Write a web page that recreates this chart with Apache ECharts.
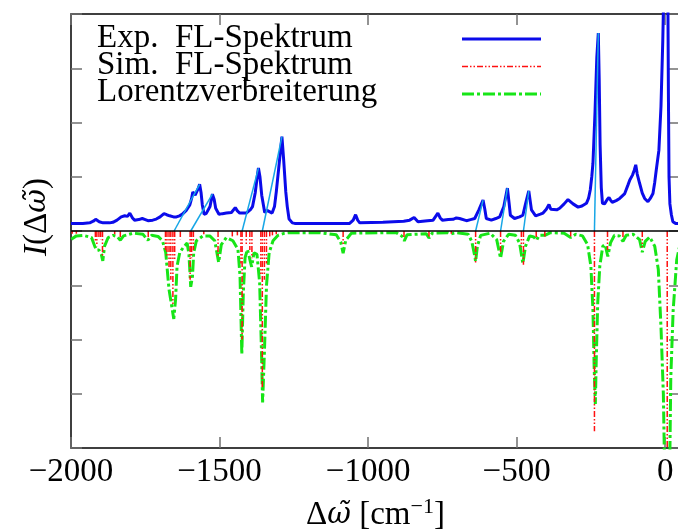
<!DOCTYPE html>
<html>
<head>
<meta charset="utf-8">
<script src="https://cdn.jsdelivr.net/npm/echarts@6/dist/echarts.min.js"></script>
<style>
html,body{margin:0;padding:0;background:#fff;}
#chart{width:678px;height:530px;}
</style>
</head>
<body>
<div id="chart"></div>
<script>
// Experimental fluorescence spectrum (blue)
const expX = [-2000,-1960,-1937,-1925,-1917,-1905,-1892,-1870,-1859,-1845,-1831,-1819,-1810,-1802,-1793,-1786,-1772,-1760,-1750,-1741,-1725,-1713,-1700,-1687,-1678,-1668,-1655,-1645,-1635,-1625,-1612,-1600,-1594,-1590,-1587,-1582,-1578,-1572,-1567,-1562,-1558,-1552,-1545,-1539,-1532,-1524,-1518,-1513,-1502,-1490,-1477,-1460,-1447,-1440,-1432,-1410,-1395,-1389,-1380,-1372,-1369,-1364,-1358,-1348,-1340,-1334,-1323,-1315,-1309,-1300,-1290,-1284,-1277,-1272,-1266,-1255,-1247,-1150,-1062,-1050,-1042,-1035,-1028,-950,-880,-860,-845,-832,-800,-781,-765,-757,-750,-730,-714,-703,-692,-669,-655,-641,-627,-613,-607,-602,-585,-570,-557,-543,-531,-525,-521,-507,-490,-479,-470,-459,-450,-436,-420,-411,-400,-391,-385,-380,-365,-355,-340,-327,-310,-293,-280,-265,-258,-252,-247,-243,-236,-230,-225,-222,-219,-215,-211,-204,-195,-189,-184,-178,-165,-153,-136,-125,-119,-110,-104,-99,-94,-86,-77,-69,-58,-50,-41,-35,-30,-21,-14,-8,-4,2,6,9,11,13,16,21,26,35,50];
const expY = [0.14,0.14,0.15,0.18,0.215,0.17,0.15,0.15,0.16,0.2,0.26,0.28,0.27,0.33,0.24,0.2,0.21,0.23,0.21,0.19,0.2,0.22,0.26,0.32,0.3,0.28,0.26,0.26,0.28,0.31,0.38,0.48,0.6,0.72,0.74,0.66,0.63,0.78,0.86,0.7,0.48,0.31,0.32,0.34,0.45,0.68,0.58,0.42,0.31,0.32,0.33,0.34,0.43,0.37,0.33,0.33,0.4,0.45,0.7,1.05,1.16,1.0,0.66,0.34,0.38,0.41,0.33,0.45,0.72,1.2,1.74,1.3,0.72,0.45,0.22,0.15,0.14,0.14,0.14,0.2,0.3,0.2,0.15,0.16,0.18,0.2,0.25,0.17,0.19,0.2,0.33,0.24,0.2,0.21,0.215,0.24,0.23,0.19,0.21,0.23,0.39,0.57,0.4,0.23,0.2,0.23,0.26,0.45,0.79,0.5,0.29,0.23,0.26,0.29,0.5,0.74,0.39,0.28,0.31,0.33,0.4,0.49,0.4,0.37,0.39,0.42,0.5,0.58,0.5,0.44,0.46,0.51,0.6,0.76,1.0,1.25,2.2,3.2,3.65,2.8,1.6,0.8,0.51,0.5,0.58,0.62,0.57,0.53,0.56,0.6,0.69,0.85,0.94,1.03,1.12,1.22,1.05,0.88,0.7,0.6,0.54,0.6,0.69,0.9,1.12,1.49,2.3,3.5,4.6,5.6,5.6,4.5,2.5,1.0,0.5,0.3,0.17,0.14,0.14];

// Simulated stick spectrum (red)
const simX = [-1996,-1982,-1918,-1913,-1906,-1900,-1894,-1853,-1834,-1740,-1682,-1677,-1670,-1664,-1657,-1651,-1632,-1599,-1594,-1588,-1553,-1505,-1457,-1440,-1428,-1424,-1410,-1398,-1391,-1361,-1356,-1349,-1342,-1331,-1322,-1309,-1084,-879,-795,-720,-638,-554,-484,-477,-434,-405,-318,-238,-194,-142,-77,7];
const simY = [-0.05,-0.05,-0.2,-0.28,-0.12,-0.15,-0.45,-0.06,-0.12,-0.15,-0.35,-0.45,-0.7,-0.9,-1.35,-0.55,-0.15,-0.9,-0.5,-0.35,-0.06,-0.45,-0.1,-0.08,-0.6,-2.0,-0.25,-0.35,-0.5,-0.8,-2.9,-0.9,-0.6,-0.1,-0.08,-0.06,-0.25,-0.12,-0.1,-0.05,-0.58,-0.4,-0.3,-0.62,-0.15,-0.1,-0.1,-3.69,-0.35,-0.12,-0.3,-6];

// Lorentz-broadened simulation (green)
const lorX = [-1999,-1982,-1959,-1931,-1920,-1915,-1906,-1898,-1893,-1887,-1875,-1858,-1845,-1834,-1823,-1791,-1758,-1741,-1729,-1707,-1692,-1681,-1676,-1670,-1662,-1654,-1648,-1643,-1634,-1623,-1609,-1603,-1597,-1591,-1587,-1578,-1556,-1533,-1516,-1503,-1494,-1477,-1455,-1438,-1431,-1425,-1420,-1414,-1406,-1401,-1392,-1384,-1374,-1365,-1359,-1355,-1349,-1342,-1333,-1320,-1303,-1281,-1264,-1163,-1107,-1092,-1084,-1075,-1056,-905,-885,-878,-869,-804,-795,-784,-731,-720,-703,-663,-651,-642,-638,-632,-621,-589,-567,-554,-544,-527,-504,-490,-479,-470,-456,-442,-433,-424,-405,-386,-340,-318,-301,-278,-261,-250,-243,-239,-235,-232,-227,-220,-210,-202,-193,-184,-171,-154,-142,-131,-108,-86,-77,-67,-52,-35,-23,-14,-6,0,6,14,19,27,39,50];
const lorY = [-0.15,-0.09,-0.08,-0.12,-0.28,-0.35,-0.35,-0.43,-0.55,-0.28,-0.12,-0.08,-0.1,-0.17,-0.09,-0.04,-0.06,-0.17,-0.08,-0.1,-0.18,-0.4,-0.71,-1.08,-1.35,-1.62,-1.26,-0.65,-0.4,-0.31,-0.22,-0.43,-1.03,-0.83,-0.4,-0.18,-0.09,-0.09,-0.18,-0.58,-0.25,-0.12,-0.18,-0.34,-0.83,-2.27,-1.14,-0.49,-0.34,-0.37,-0.66,-0.4,-0.43,-0.95,-2.18,-3.16,-2.24,-1.01,-0.4,-0.18,-0.08,-0.04,-0.03,-0.03,-0.07,-0.2,-0.41,-0.17,-0.04,-0.03,-0.1,-0.18,-0.07,-0.05,-0.13,-0.04,-0.03,-0.05,-0.03,-0.06,-0.19,-0.43,-0.56,-0.28,-0.08,-0.04,-0.16,-0.5,-0.19,-0.06,-0.08,-0.22,-0.6,-0.28,-0.09,-0.11,-0.17,-0.08,-0.08,-0.03,-0.04,-0.12,-0.06,-0.09,-0.25,-0.65,-1.46,-2.51,-3.19,-2.39,-1.33,-0.65,-0.28,-0.25,-0.47,-0.22,-0.08,-0.09,-0.19,-0.08,-0.06,-0.16,-0.39,-0.19,-0.11,-0.28,-0.71,-1.77,-3.01,-5.0,-7.0,-5.0,-2.7,-1.46,-0.53,-0.25];

// Assignment lines: simulated position -> experimental peak
const linkSimX = [-1653,-1597,-1424,-1356,-638,-554,-477,-238];
const linkExpX = [-1567,-1524,-1369,-1290,-613,-531,-459,-225];
const linkExpY = [0.86,0.68,1.16,1.74,0.57,0.79,0.74,3.65];

const xTicks = [-2000,-1500,-1000,-500,0];
const legendLabels = ['Exp.\u2002FL-Spektrum','Sim.\u2002FL-Spektrum','Lorentzverbreiterung'];

const FONT = '"Liberation Serif", "DejaVu Serif", serif';
const MFONT = '"DejaVu Serif", serif';
const BLUE = '#0b0bea', RED = '#ff1010', GREEN = '#17e517', CYAN = '#17a6e6';
const TICKC = '#707070';

const zip = (a, b) => a.map((v, i) => [v, b[i]]);

const chart = echarts.init(document.getElementById('chart'), null, {renderer: 'canvas'});

function clampRect(p, cs) {
  return [p[0], Math.max(cs.y, Math.min(cs.y + cs.height, p[1]))];
}

const tickStyle = {inside: true, length: 11, lineStyle: {color: TICKC, width: 1.5}};
const noLine = {show: false, onZero: false};

const option = {
  animation: false,
  backgroundColor: '#fff',
  grid: {left: 71, right: -2, top: 14, bottom: 82, show: true, borderColor: '#000', borderWidth: 1.5,
         backgroundColor: 'transparent', containLabel: false, outerBoundsMode: 'none'},
  xAxis: [
    {type: 'value', min: -2000, max: 50, interval: 500, position: 'bottom',
     axisLine: noLine, axisTick: tickStyle, splitLine: {show: false},
     axisLabel: {showMaxLabel: false, color: '#000', fontFamily: FONT, fontSize: 33, margin: 8,
       formatter: v => xTicks.indexOf(v) < 0 ? '' : (v < 0 ? '\u2212' + Math.abs(v) : String(v))},
     name: '{n|\u0394}{i|\u03c9\u0303} {n|[cm}{s|\u22121}{n|]}', nameLocation: 'middle', nameGap: 48,
     nameTextStyle: {color: '#000', fontFamily: FONT, fontSize: 33,
       rich: {n: {fontFamily: FONT, fontSize: 33, color: '#000'},
              i: {fontFamily: MFONT, fontSize: 29, fontStyle: 'italic', color: '#000'},
              s: {fontFamily: FONT, fontSize: 22, color: '#000', padding: [0, 0, 16, 0]}}}},
    {type: 'value', min: -2000, max: 50, interval: 500, position: 'top',
     axisLine: noLine, axisTick: tickStyle, splitLine: {show: false}, axisLabel: {show: false}}
  ],
  yAxis: [
    {type: 'value', min: -4, max: 4, interval: 1, position: 'left',
     axisLine: noLine, axisTick: tickStyle, splitLine: {show: false}, axisLabel: {show: false}},
    {type: 'value', min: -4, max: 4, interval: 1, position: 'right',
     axisLine: noLine, axisTick: tickStyle, splitLine: {show: false}, axisLabel: {show: false}}
  ],
  series: [
    {name: 'Lorentzverbreiterung', type: 'line', data: zip(lorX, lorY), showSymbol: false, clip: true,
     lineStyle: {color: GREEN, width: 3, type: [12, 3, 3, 3]}, z: 2},
    {name: 'Sim. FL-Spektrum', type: 'custom', data: zip(simX, simY), clip: true, z: 3,
     renderItem: (params, api) => {
       const cs = params.coordSys;
       const p0 = clampRect(api.coord([api.value(0), 0]), cs);
       const p1 = clampRect(api.coord([api.value(0), api.value(1)]), cs);
       return {type: 'line', shape: {x1: p0[0], y1: p0[1], x2: p1[0], y2: p1[1]},
               style: {stroke: RED, lineWidth: 1.5, lineDash: [6, 2, 1.5, 2, 1.5, 2]}};
     }},
    {name: 'Exp. FL-Spektrum', type: 'line', data: zip(expX, expY), showSymbol: false, clip: true,
     lineStyle: {color: BLUE, width: 3}, z: 4,
     markLine: {silent: true, symbol: ['none', 'none'], label: {show: false},
       lineStyle: {color: '#000', width: 1.5, type: 'solid'}, data: [{yAxis: 0}], z: 10}},
    {name: 'links', type: 'custom', z: 5,
     data: linkSimX.map((v, i) => [v, linkExpX[i], linkExpY[i]]),
     renderItem: (params, api) => {
       const p0 = api.coord([api.value(0), 0]);
       const p1 = api.coord([api.value(1), api.value(2)]);
       return {type: 'line', shape: {x1: p0[0], y1: p0[1], x2: p1[0], y2: p1[1]},
               style: {stroke: CYAN, lineWidth: 1.5}};
     }}
  ],
  graphic: [
    {type: 'text', x: 97, y: 38, style: {text: legendLabels[0], font: '33px ' + FONT, fill: '#000', align: 'left', verticalAlign: 'middle'}},
    {type: 'text', x: 97, y: 65.5, style: {text: legendLabels[1], font: '33px ' + FONT, fill: '#000', align: 'left', verticalAlign: 'middle'}},
    {type: 'text', x: 97, y: 92, style: {text: legendLabels[2], font: '33px ' + FONT, fill: '#000', align: 'left', verticalAlign: 'middle'}},
    {type: 'line', shape: {x1: 462, y1: 39, x2: 541, y2: 39}, style: {stroke: BLUE, lineWidth: 3}},
    {type: 'line', shape: {x1: 462, y1: 66.5, x2: 541, y2: 66.5}, style: {stroke: RED, lineWidth: 1.5, lineDash: [6, 2, 1.5, 2, 1.5, 2]}},
    {type: 'line', shape: {x1: 462, y1: 94, x2: 541, y2: 94}, style: {stroke: GREEN, lineWidth: 3, lineDash: [12, 3, 3, 3]}},
    {type: 'text', x: 37, y: 217, rotation: Math.PI / 2,
     style: {text: '{i|I}({n|\u0394}{w|\u03c9\u0303})', font: '33px ' + FONT, fill: '#000', align: 'center', verticalAlign: 'middle',
       rich: {i: {font: 'italic 33px ' + FONT, fill: '#000'}, n: {font: '33px ' + FONT, fill: '#000'},
              w: {font: 'italic 29px ' + MFONT, fill: '#000'}}}}
  ]
};
chart.setOption(option);
</script>
</body>
</html>
